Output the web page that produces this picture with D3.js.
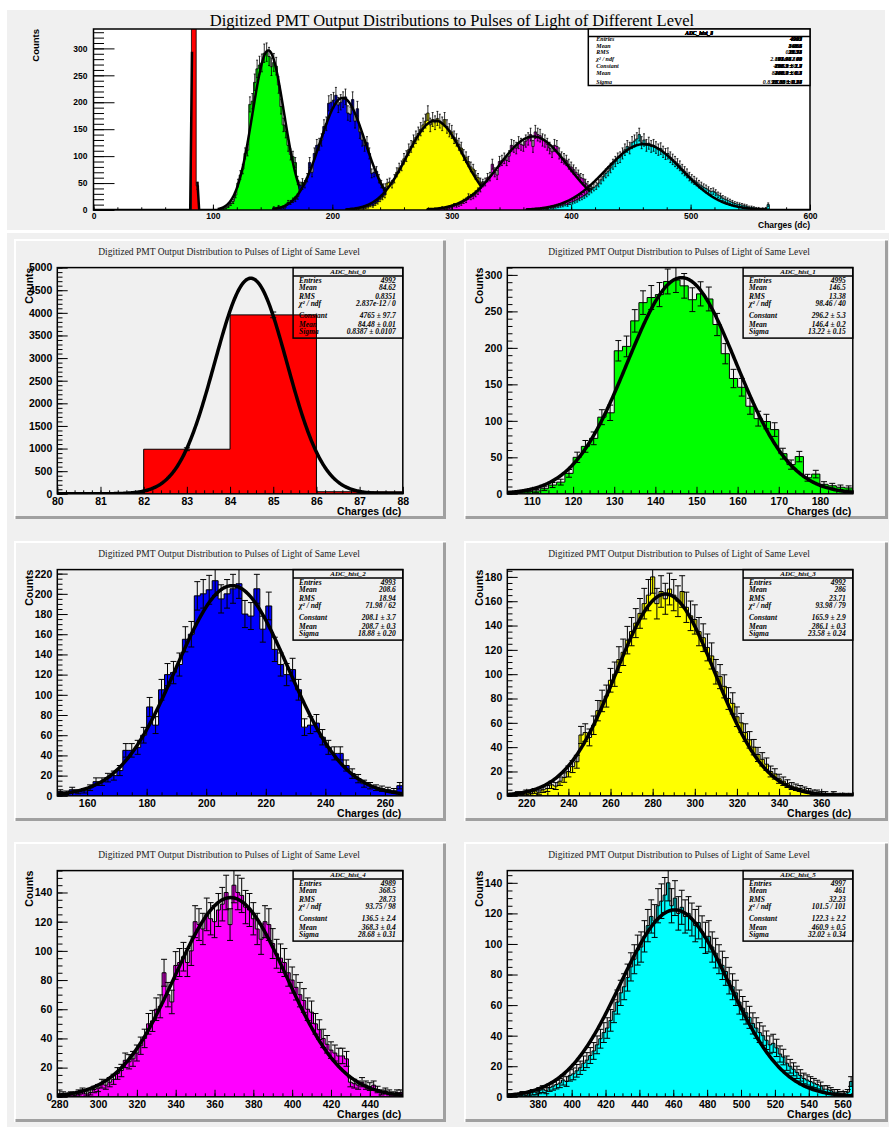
<!DOCTYPE html>
<html>
<head>
<meta charset="utf-8">
<script src="https://cdnjs.cloudflare.com/ajax/libs/d3/7.8.5/d3.min.js"></script>
<style>
  body { margin: 0; background: #fff; }
</style>
</head>
<body>
<svg id="chart" width="891" height="1129"></svg>
<script>
// ---------------- data ----------------
const histNames = ['ADC_hist_0', 'ADC_hist_1', 'ADC_hist_2', 'ADC_hist_3', 'ADC_hist_4', 'ADC_hist_5'];
const fillColors = ['#ff0000', '#00ff00', '#0000ff', '#ffff00', '#ff00ff', '#00ffff'];
const binStart = [80, 104, 150, 211, 279, 362];
const binWidth = [2, 2, 2, 2, 2, 2];
const yMax = [5000, 310, 224, 186, 155, 148];
const yTickStep = [500, 50, 20, 20, 20, 20];
const yTickSub = [5, 5, 4, 4, 4, 4];
const xTickStep = [1, 10, 20, 20, 20, 20];
const xTickSub = [5, 5, 4, 4, 4, 4];

const counts0 = [0, 985, 3955, 45];
const counts1 = [1, 2, 3, 4, 7, 12, 16, 28, 50, 65, 76, 105, 111, 196, 202, 237, 262, 269, 273, 291,
  293, 285, 266, 274, 267, 232, 192, 158, 146, 120, 103, 99, 88, 55, 40, 51, 22, 27, 13, 11, 9, 8];
const counts2 = [4, 3, 6, 4, 5, 8, 14, 14, 18, 20, 25, 45, 45, 48, 60, 88, 70, 105, 120, 122, 130, 155, 160,
  198, 200, 204, 213, 195, 200, 205, 210, 180, 178, 205, 165, 188, 145, 130, 120, 125, 105,
  68, 70, 72, 58, 48, 42, 42, 30, 22, 17, 12, 10, 8, 7, 6, 5, 10];
const counts3 = [1, 0, 2, 1, 3, 2, 4, 3, 5, 6,
  9, 8, 12, 15, 20, 24, 28, 50, 52, 48,
  58, 70, 78, 82, 95, 100, 112, 118, 128, 135,
  142, 150, 158, 165, 180, 158, 168, 162, 170, 165,
  160, 168, 155, 148, 145, 135, 130, 122, 115, 102,
  98, 90, 80, 76, 65, 60, 52, 46, 40, 34,
  30, 26, 20, 18, 14, 12, 10, 8, 7, 6,
  5, 4, 3, 3, 2, 2, 1, 2, 1, 1,
  1, 1];
const counts4 = [1, 2, 1, 2, 1, 3, 4, 2, 3, 5,
  6, 9, 8, 10, 12, 16, 18, 25, 24, 26,
  30, 35, 40, 50, 52, 60, 62, 85, 70, 65,
  90, 92, 96, 92, 100, 120, 118, 115, 125, 122,
  120, 128, 132, 140, 118, 145, 140, 138, 130, 128,
  122, 115, 108, 120, 118, 105, 98, 95, 92, 85,
  80, 75, 70, 66, 60, 58, 50, 46, 40, 36,
  32, 30, 28, 28, 26, 10, 9, 8, 10, 8,
  7, 8, 5, 3, 4, 3, 2, 3, 3];
const counts5 = [1, 0, 1, 1, 2, 1, 2, 3, 3, 4,
  5, 4, 6, 7, 8, 9, 11, 10, 14, 15,
  17, 19, 22, 24, 27, 30, 34, 38, 42, 45,
  50, 56, 62, 68, 72, 78, 85, 90, 96, 98,
  105, 112, 118, 115, 125, 128, 132, 140, 125, 130,
  120, 124, 118, 120, 116, 112, 114, 108, 104, 105,
  98, 94, 90, 86, 82, 76, 72, 68, 62, 58,
  55, 52, 48, 45, 42, 40, 37, 34, 35, 32,
  28, 26, 22, 20, 18, 16, 14, 12, 11, 10,
  9, 8, 7, 5, 5, 4, 3, 3, 2, 2,
  3, 10];
const countsList = [counts0, counts1, counts2, counts3, counts4, counts5];

const fitConstant = [4765, 296.2, 208.1, 165.9, 136.5, 122.3];
const fitMean = [84.48, 146.4, 208.7, 286.1, 368.3, 460.9];
const fitSigma = [0.8387, 13.22, 18.88, 23.58, 28.68, 32.02];

const statLabels = ['Entries', 'Mean', 'RMS', 'χ² / ndf', 'Constant', 'Mean', 'Sigma'];
const statEntries = ['4992', '4995', '4993', '4992', '4989', '4997'];
const statMean = ['84.62', '146.5', '208.6', '286', '368.5', '461'];
const statRMS = ['0.8351', '13.38', '18.94', '23.71', '28.73', '32.23'];
const statChi2 = ['2.837e-12 / 0', '98.46 / 40', '71.98 / 62', '93.98 / 79', '93.75 / 98', '101.5 / 101'];
const statConstant = ['4765 ± 97.7', '296.2 ± 5.3', '208.1 ± 3.7', '165.9 ± 2.9', '136.5 ± 2.4', '122.3 ± 2.2'];
const statFitMean = ['84.48 ± 0.01', '146.4 ± 0.2', '208.7 ± 0.3', '286.1 ± 0.3', '368.3 ± 0.4', '460.9 ± 0.5'];
const statSigma = ['0.8387 ± 0.0107', '13.22 ± 0.15', '18.88 ± 0.20', '23.58 ± 0.24', '28.68 ± 0.31', '32.02 ± 0.34'];

const overviewXDomain = [0, 600];
const overviewYMax = 336;

const mainTitle = 'Digitized PMT Output Distributions to Pulses of Light of Different Level';
const padTitle = 'Digitized PMT Output Distribution to Pulses of Light of Same Level';

// ---------------- drawing ----------------
const svg = d3.select('#chart');
const serif = '"Liberation Serif", "Times New Roman", serif';
const sans = '"Liberation Sans", Arial, sans-serif';

svg.append('rect').attr('width', 891).attr('height', 1129).attr('fill', '#fff');
svg.append('rect').attr('x', 7).attr('y', 10).attr('width', 878).attr('height', 220).attr('fill', '#f0f0f0');
svg.append('rect').attr('x', 7).attr('y', 233).attr('width', 882).attr('height', 894).attr('fill', '#f0f0f0');

let clipId = 0;
const makeClip = (x0, y0, x1, y1) => {
  const id = 'clip' + (clipId++);
  svg.append('clipPath').attr('id', id).append('rect')
    .attr('x', x0).attr('y', y0).attr('width', x1 - x0).attr('height', y1 - y0);
  return `url(#${id})`;
};

const binsOf = i => countsList[i].map((c, k) => ({
  x0: binStart[i] + k * binWidth[i],
  x1: binStart[i] + (k + 1) * binWidth[i],
  c: c
}));

const gauss = (i, v) => fitConstant[i] * Math.exp(-0.5 * Math.pow((v - fitMean[i]) / fitSigma[i], 2));

function drawHist(g, i, x, y, o) {
  const bins = binsOf(i);
  const pts = [[bins[0].x0, 0]];
  bins.forEach(d => { pts.push([d.x0, d.c]); pts.push([d.x1, d.c]); });
  pts.push([bins[bins.length - 1].x1, 0]);

  // one filled step area, so no seams between bins
  g.append('path')
    .attr('d', d3.area().x(d => x(d[0])).y0(y(0)).y1(d => y(d[1]))(pts))
    .attr('fill', fillColors[i]);
  g.append('path')
    .attr('d', d3.line().x(d => x(d[0])).y(d => y(d[1]))(pts))
    .attr('fill', 'none').attr('stroke', '#000').attr('stroke-width', o.lineW);

  if (o.errors) {
    const eb = g.append('g').attr('stroke', '#000').attr('stroke-width', o.lineW);
    bins.filter(d => d.c > 0).forEach(d => {
      const cx = x((d.x0 + d.x1) / 2), e = Math.sqrt(d.c);
      const yl = y(d.c - e), yh = y(d.c + e);
      eb.append('line').attr('x1', cx).attr('x2', cx).attr('y1', yl).attr('y2', yh);
      eb.append('line').attr('x1', cx - o.cap).attr('x2', cx + o.cap).attr('y1', yl).attr('y2', yl);
      eb.append('line').attr('x1', cx - o.cap).attr('x2', cx + o.cap).attr('y1', yh).attr('y2', yh);
    });
  }
}

function drawFit(g, i, x, y, lo, hi, width) {
  const ymax = y.domain()[1];
  const xs = d3.range(0, 401).map(k => lo + (hi - lo) * k / 400);
  const line = d3.line()
    .defined(v => gauss(i, v) <= ymax)
    .x(v => x(v)).y(v => y(gauss(i, v)));
  g.append('path').attr('d', line(xs))
    .attr('fill', 'none').attr('stroke', '#000').attr('stroke-width', width)
    .attr('stroke-linejoin', 'round');
}

function tickVals(dom, step) {
  return d3.range(Math.ceil(dom[0] / step - 1e-6) * step, dom[1] + step * 1e-6, step)
    .map(v => +v.toFixed(6));
}

function drawAxes(g, x, y, o) {
  const fx0 = x.range()[0], fy1 = y.range()[0];
  const style = a => a.attr('font-size', o.font).attr('font-family', sans).attr('font-weight', 'bold')
    .call(s => s.select('.domain').remove())
    .call(s => s.selectAll('.tick line').attr('stroke', '#000'))
    .call(s => s.selectAll('.tick text').attr('fill', '#000'));

  g.append('g').attr('transform', `translate(0,${fy1})`)
    .call(d3.axisBottom(x).tickValues(tickVals(x.domain(), o.xStep / o.xSub)).tickSize(-o.xMinor).tickFormat(''))
    .call(style);
  g.append('g').attr('transform', `translate(0,${fy1})`)
    .call(d3.axisBottom(x).tickValues(tickVals(x.domain(), o.xStep)).tickSize(-o.xMajor)
      .tickPadding(o.xPad).tickFormat(d3.format('d')))
    .call(style);
  g.append('g').attr('transform', `translate(${fx0},0)`)
    .call(d3.axisLeft(y).tickValues(tickVals(y.domain(), o.yStep / o.ySub)).tickSize(-o.yMinor).tickFormat(''))
    .call(style);
  g.append('g').attr('transform', `translate(${fx0},0)`)
    .call(d3.axisLeft(y).tickValues(tickVals(y.domain(), o.yStep)).tickSize(-o.yMajor)
      .tickPadding(o.yPad).tickFormat(d3.format('d')))
    .call(style);
}

function drawStats(g, idxs, box, o) {
  g.append('rect').attr('x', box.x0).attr('y', box.y0)
    .attr('width', box.x1 - box.x0).attr('height', box.y1 - box.y0)
    .attr('fill', o.fill).attr('stroke', '#000').attr('stroke-width', o.border);
  g.append('line').attr('x1', box.x0).attr('x2', box.x1)
    .attr('y1', box.y0 + o.header).attr('y2', box.y0 + o.header)
    .attr('stroke', '#000').attr('stroke-width', o.border);
  const t = g.append('g').attr('font-family', serif).attr('font-weight', 'bold')
    .attr('font-style', 'italic').attr('font-size', o.font).attr('fill', '#000');
  // the overview box stacks every histogram's numbers on top of each other, as in the reference
  idxs.forEach(i => {
    t.append('text').attr('x', (box.x0 + box.x1) / 2).attr('y', box.y0 + o.header / 2)
      .attr('dy', '0.35em').attr('text-anchor', 'middle').attr('font-size', o.font - 0.5)
      .text(histNames[i]);
    const vals = [statEntries[i], statMean[i], statRMS[i], statChi2[i], statConstant[i], statFitMean[i], statSigma[i]];
    vals.forEach((v, r) => {
      t.append('text').attr('x', box.x1 - o.valInset).attr('y', box.y0 + o.rows[r])
        .attr('dy', '0.35em').attr('text-anchor', 'end').text(v);
    });
  });
  statLabels.forEach((l, r) => {
    t.append('text').attr('x', box.x0 + o.labInset).attr('y', box.y0 + o.rows[r])
      .attr('dy', '0.35em').text(l);
  });
}

// ---------- overview pad ----------
(function overview() {
  const fx0 = 93.5, fx1 = 810, fy0 = 29, fy1 = 210;
  const x = d3.scaleLinear().domain(overviewXDomain).range([fx0, fx1]);
  const y = d3.scaleLinear().domain([0, overviewYMax]).range([fy1, fy0]);
  const g = svg.append('g');
  g.append('rect').attr('x', fx0).attr('y', fy0).attr('width', fx1 - fx0).attr('height', fy1 - fy0).attr('fill', '#fff');

  const plot = g.append('g').attr('clip-path', makeClip(fx0, fy0, fx1, fy1));
  histNames.forEach((n, i) => {
    drawHist(plot, i, x, y, { lineW: 0.8, errors: true, cap: 1 });
    if (i === 0) drawFit(plot, i, x, y, overviewXDomain[0], overviewXDomain[1], 2.5);
    else drawFit(plot, i, x, y, binStart[i], binStart[i] + countsList[i].length * binWidth[i], 2.5);
  });

  drawAxes(g, x, y, { xStep: 100, xSub: 5, yStep: 50, ySub: 5, xMajor: 5.4, xMinor: 2.7,
    yMajor: 21, yMinor: 10.5, xPad: 2.5, yPad: 6, font: 8.5 });
  g.append('rect').attr('x', fx0).attr('y', fy0).attr('width', fx1 - fx0).attr('height', fy1 - fy0)
    .attr('fill', 'none').attr('stroke', '#000').attr('stroke-width', 1.5);

  drawStats(g, [0, 1, 2, 3, 4, 5], { x0: 588.3, y0: fy0, x1: fx1, y1: 85.5 },
    { fill: '#fff', border: 1.5, header: 7.5, font: 6, labInset: 8, valInset: 8,
      rows: [9.5, 16.7, 23.3, 30.3, 36.5, 44.3, 52.5] });

  g.append('text').attr('x', 452).attr('y', 25.5).attr('text-anchor', 'middle')
    .attr('font-family', serif).attr('font-size', 16.5).text(mainTitle);
  g.append('text').attr('transform', `translate(39,${fy0}) rotate(-90)`).attr('text-anchor', 'end')
    .attr('font-family', sans).attr('font-weight', 'bold').attr('font-size', 9.5).text('Counts');
  g.append('text').attr('x', fx1).attr('y', 227.5).attr('text-anchor', 'end')
    .attr('font-family', sans).attr('font-weight', 'bold').attr('font-size', 8.5).text('Charges (dc)');
})();

// ---------- six detail pads ----------
const padLeft = [14, 464];
const padWidth = [432, 424];
const padTop = [239, 541, 842];
const padHeight = 280;

histNames.forEach((n, i) => {
  const col = i % 2, row = Math.floor(i / 2);
  const px = padLeft[col], py = padTop[row], pw = padWidth[col], ph = padHeight;
  const fx0 = px + 43.3, fx1 = px + 388.8, fy0 = py + 28.6, fy1 = py + 254.8;
  const g = svg.append('g');

  g.append('rect').attr('x', px).attr('y', py).attr('width', pw).attr('height', ph).attr('fill', '#f0f0f0');
  g.append('path').attr('d', `M${px + 1},${py + ph}V${py + 1}H${px + pw}`)
    .attr('fill', 'none').attr('stroke', '#fff').attr('stroke-width', 2);
  g.append('path').attr('d', `M${px + 1.5},${py + ph - 1.5}H${px + pw - 1.5}V${py + 1.5}`)
    .attr('fill', 'none').attr('stroke', '#a0a0a0').attr('stroke-width', 3);

  const xLo = binStart[i], xHi = binStart[i] + countsList[i].length * binWidth[i];
  const x = d3.scaleLinear().domain([xLo, xHi]).range([fx0, fx1]);
  const y = d3.scaleLinear().domain([0, yMax[i]]).range([fy1, fy0]);

  const plot = g.append('g').attr('clip-path', makeClip(fx0, fy0, fx1, fy1));
  drawHist(plot, i, x, y, { lineW: 1, errors: true, cap: 3 });
  drawFit(plot, i, x, y, xLo, xHi, 3.5);

  drawAxes(g, x, y, { xStep: xTickStep[i], xSub: xTickSub[i], yStep: yTickStep[i], ySub: yTickSub[i],
    xMajor: 7, xMinor: 3.5, yMajor: 10.4, yMinor: 5.2, xPad: 4, yPad: 5, font: 10.5 });
  g.append('rect').attr('x', fx0).attr('y', fy0).attr('width', fx1 - fx0).attr('height', fy1 - fy0)
    .attr('fill', 'none').attr('stroke', '#000').attr('stroke-width', 1.5);

  drawStats(g, [i], { x0: fx1 - 109.7, y0: fy0, x1: fx1, y1: fy0 + 70.5 },
    { fill: 'none', border: 1.5, header: 8.5, font: 7.5, labInset: 6, valInset: 7,
      rows: [12.8, 20, 28.6, 35.8, 47.3, 56.6, 63.6] });

  g.append('text').attr('x', (fx0 + fx1) / 2 - 1).attr('y', py + 15.5).attr('text-anchor', 'middle')
    .attr('font-family', serif).attr('font-size', 9.5).attr('fill', '#222').text(padTitle);
  g.append('text').attr('transform', `translate(${fx0 - 24.5},${fy0}) rotate(-90)`).attr('text-anchor', 'end')
    .attr('font-family', sans).attr('font-weight', 'bold').attr('font-size', 10.5).text('Counts');
  g.append('text').attr('x', fx1 - 1.5).attr('y', fy1 + 21).attr('text-anchor', 'end')
    .attr('font-family', sans).attr('font-weight', 'bold').attr('font-size', 10.5).text('Charges (dc)');
});
</script>
</body>
</html>
